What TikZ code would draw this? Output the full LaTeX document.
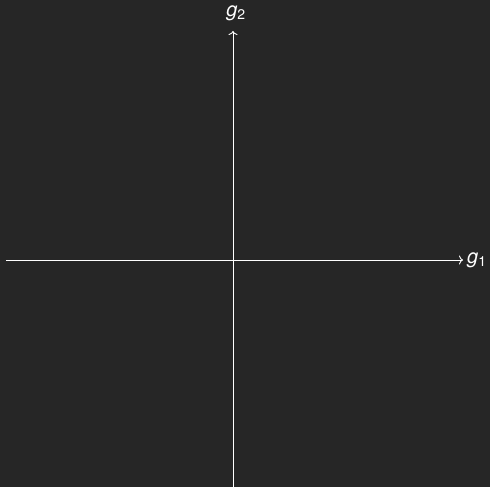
\documentclass[tikz,border=0pt]{standalone}
\usepackage{fontspec}
\setmainfont{TeX Gyre Heros}
\usetikzlibrary{arrows.meta}
\definecolor{bgc}{HTML}{262626}
\begin{document}
\begin{tikzpicture}[x=1pt,y=1pt,
  axis/.style={draw=white,line width=0.9pt,-{To[length=4pt,width=9pt]}},
  lbl/.style={text=white,font=\fontsize{20}{24}\selectfont,inner sep=0pt}]
\fill[bgc] (0,0) rectangle (490,487);
\useasboundingbox (0,0) rectangle (490,487);
\coordinate (xs) at (6,227);
\coordinate (xe) at (463,227);
\coordinate (ys) at (233,0);
\coordinate (ye) at (233,456);
\draw[axis] (xs) -- (xe);
\draw[axis] (ys) -- (ye);
\node[lbl,anchor=west] (g1) at (467,227) {\textit{g}\textsubscript{1}};
\node[lbl] (g2) at (236,474) {\textit{g}\textsubscript{2}};
\end{tikzpicture}
\end{document}
